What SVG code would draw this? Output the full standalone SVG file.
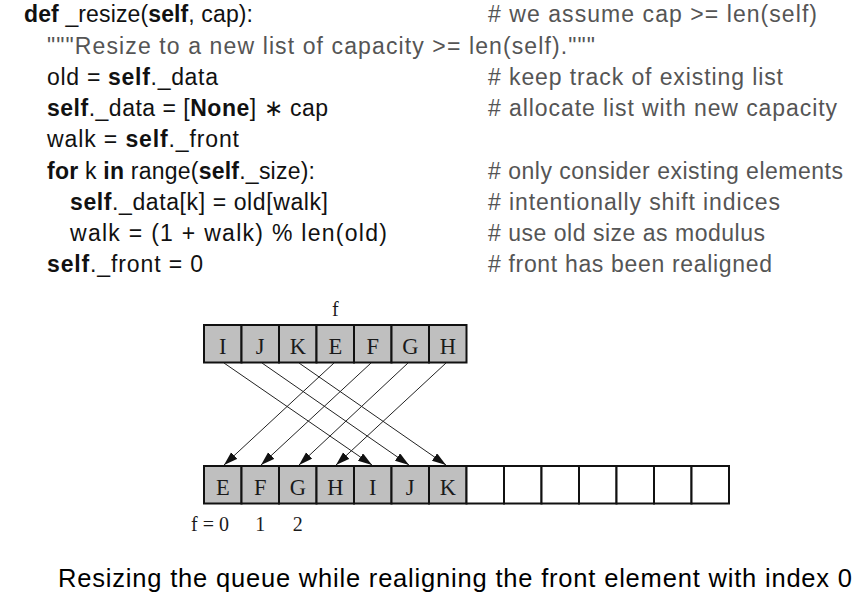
<svg xmlns="http://www.w3.org/2000/svg" width="868" height="602" viewBox="0 0 868 602">
<style>
.code{font-family:"Liberation Sans",Arial,sans-serif;font-size:23px;fill:#111}
.cm{font-family:"Liberation Sans",Arial,sans-serif;font-size:23px;fill:#555}
.b{font-weight:bold}
.cell{stroke:#111;stroke-width:2}
.full{fill:#bfbfbf}
.empty{fill:#fff}
.lbl{font-family:"Liberation Serif","Times New Roman",serif;font-size:22.5px;fill:#1a1a1a;text-anchor:middle}
.idx{font-family:"Liberation Serif","Times New Roman",serif;font-size:20px;fill:#1a1a1a}
.conn{stroke:#222;stroke-width:1;fill:none;marker-end:url(#ah)}
.cap{font-family:"Liberation Sans",Arial,sans-serif;font-size:25.5px;fill:#000}
</style>
<defs>
<marker id="ah" markerUnits="userSpaceOnUse" markerWidth="14" markerHeight="10" refX="14" refY="4.5" orient="auto">
<path d="M0,0 L14,4.5 L0,9 Z" fill="#111"/>
</marker>
</defs>
<rect width="868" height="602" fill="#fff"/>
<g id="code">
<text class="code" x="24" y="22" textLength="229"><tspan class="b">def</tspan> _resize(<tspan class="b">self</tspan>, cap):</text>
<text class="cm" x="47" y="54" textLength="548">"""Resize to a new list of capacity &gt;= len(self)."""</text>
<text class="code" x="47" y="85" textLength="171">old = <tspan class="b">self</tspan>._data</text>
<text class="code" x="47" y="116" textLength="281"><tspan class="b">self</tspan>._data = [<tspan class="b">None</tspan>] ∗ cap</text>
<text class="code" x="47" y="147" textLength="192">walk = <tspan class="b">self</tspan>._front</text>
<text class="code" x="47" y="179" textLength="268"><tspan class="b">for</tspan> k <tspan class="b">in</tspan> range(<tspan class="b">self</tspan>._size):</text>
<text class="code" x="70" y="210" textLength="258"><tspan class="b">self</tspan>._data[k] = old[walk]</text>
<text class="code" x="70" y="241" textLength="317">walk = (1 + walk) % len(old)</text>
<text class="code" x="47" y="272" textLength="156"><tspan class="b">self</tspan>._front = 0</text>
<text class="cm" x="488" y="22" textLength="329"># we assume cap &gt;= len(self)</text>
<text class="cm" x="488" y="85" textLength="295"># keep track of existing list</text>
<text class="cm" x="488" y="116" textLength="349"># allocate list with new capacity</text>
<text class="cm" x="488" y="179" textLength="355"># only consider existing elements</text>
<text class="cm" x="488" y="210" textLength="292"># intentionally shift indices</text>
<text class="cm" x="488" y="241" textLength="277"># use old size as modulus</text>
<text class="cm" x="488" y="272" textLength="284"># front has been realigned</text>
</g>
<g id="old-array">
<text class="idx" x="335.25" y="316" text-anchor="middle">f</text>
<rect class="cell full" x="204" y="325" width="37.5" height="37.5"/>
<rect class="cell full" x="241.5" y="325" width="37.5" height="37.5"/>
<rect class="cell full" x="279" y="325" width="37.5" height="37.5"/>
<rect class="cell full" x="316.5" y="325" width="37.5" height="37.5"/>
<rect class="cell full" x="354" y="325" width="37.5" height="37.5"/>
<rect class="cell full" x="391.5" y="325" width="37.5" height="37.5"/>
<rect class="cell full" x="429" y="325" width="37.5" height="37.5"/>
<text class="lbl" x="222.75" y="354">I</text>
<text class="lbl" x="260.25" y="354">J</text>
<text class="lbl" x="297.75" y="354">K</text>
<text class="lbl" x="335.25" y="354">E</text>
<text class="lbl" x="372.75" y="354">F</text>
<text class="lbl" x="410.25" y="354">G</text>
<text class="lbl" x="447.75" y="354">H</text>
</g>
<g id="new-array">
<rect class="cell full" x="204" y="466" width="37.5" height="37.5"/>
<rect class="cell full" x="241.5" y="466" width="37.5" height="37.5"/>
<rect class="cell full" x="279" y="466" width="37.5" height="37.5"/>
<rect class="cell full" x="316.5" y="466" width="37.5" height="37.5"/>
<rect class="cell full" x="354" y="466" width="37.5" height="37.5"/>
<rect class="cell full" x="391.5" y="466" width="37.5" height="37.5"/>
<rect class="cell full" x="429" y="466" width="37.5" height="37.5"/>
<rect class="cell empty" x="466.5" y="466" width="37.5" height="37.5"/>
<rect class="cell empty" x="504" y="466" width="37.5" height="37.5"/>
<rect class="cell empty" x="541.5" y="466" width="37.5" height="37.5"/>
<rect class="cell empty" x="579" y="466" width="37.5" height="37.5"/>
<rect class="cell empty" x="616.5" y="466" width="37.5" height="37.5"/>
<rect class="cell empty" x="654" y="466" width="37.5" height="37.5"/>
<rect class="cell empty" x="691.5" y="466" width="37.5" height="37.5"/>
<text class="lbl" x="222.75" y="495">E</text>
<text class="lbl" x="260.25" y="495">F</text>
<text class="lbl" x="297.75" y="495">G</text>
<text class="lbl" x="335.25" y="495">H</text>
<text class="lbl" x="372.75" y="495">I</text>
<text class="lbl" x="410.25" y="495">J</text>
<text class="lbl" x="447.75" y="495">K</text>
<text class="idx" x="229" y="531" text-anchor="end">f = 0</text>
<text class="idx" x="260.25" y="531" text-anchor="middle">1</text>
<text class="idx" x="297.75" y="531" text-anchor="middle">2</text>
</g>
<g id="connectors">
<line class="conn" x1="224" y1="363" x2="372" y2="465"/>
<line class="conn" x1="262" y1="363" x2="409" y2="465"/>
<line class="conn" x1="299" y1="363" x2="446" y2="465"/>
<line class="conn" x1="334" y1="363" x2="224" y2="465"/>
<line class="conn" x1="371" y1="363" x2="261" y2="465"/>
<line class="conn" x1="408" y1="363" x2="299" y2="465"/>
<line class="conn" x1="446" y1="363" x2="336" y2="465"/>
</g>
<text class="cap" x="58" y="587" textLength="794">Resizing the queue while realigning the front element with index 0</text>
</svg>
